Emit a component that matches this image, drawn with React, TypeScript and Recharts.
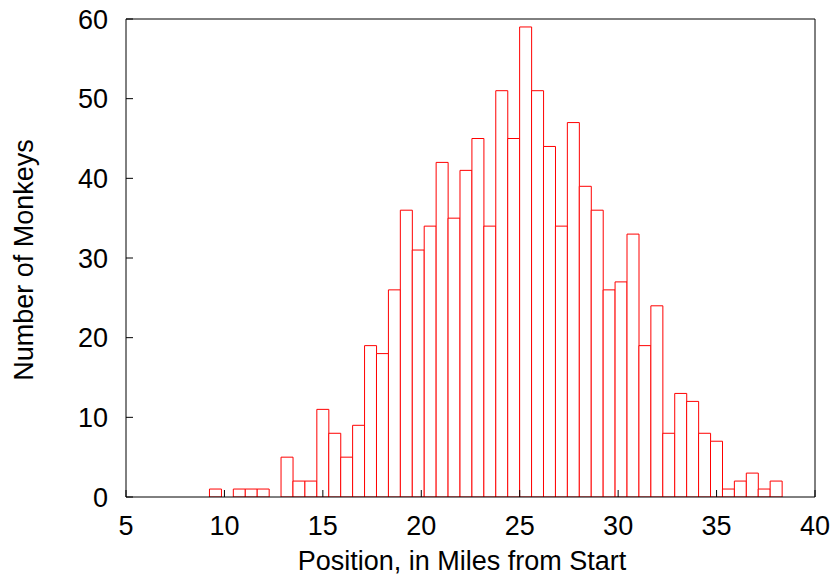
import React from "react";
import { ComposedChart, Bar, XAxis, YAxis } from "recharts";

// histogram bins: first bin starts at 9.24 miles, each bin ~0.606 miles wide
const BIN_START = 9.24;
const BIN_WIDTH = 0.606;
const monkeyCounts = [
  1, 0, 1, 1, 1, 0, 5, 2, 2, 11, 8, 5, 9, 19, 18, 26, 36, 31, 34, 42, 35, 41, 45, 34,
  51, 45, 59, 51, 44, 34, 47, 39, 36, 26, 27, 33, 19, 24, 8, 13, 12, 8, 7, 1, 2, 3, 1, 2,
];
const xTicks = [5, 10, 15, 20, 25, 30, 35, 40];
const yTicks = [0, 10, 20, 30, 40, 50, 60];

const data = monkeyCounts.map((count, i) => ({
  position: BIN_START + BIN_WIDTH * (i + 0.5),
  count,
}));

const font = "'Liberation Sans', Arial, Helvetica, sans-serif";
const tickStyle = { fill: "#000", fontSize: 27, fontFamily: font };

export default function App() {
  return (
    <div style={{ width: 837, height: 585, background: "#fff" }}>
      <style>{"body{margin:0}"}</style>
      <ComposedChart
        width={837}
        height={585}
        data={data}
        margin={{ top: 18, right: 21, bottom: 0, left: 0 }}
        barCategoryGap={0}
        barGap={0}
      >
        <XAxis
          dataKey="position"
          type="number"
          domain={[5, 40]}
          ticks={xTicks}
          allowDataOverflow
          height={88}
          tick={tickStyle}
          tickSize={-7}
          tickMargin={26}
          stroke="#000"
          label={{
            content: () => (
              <text x={462} y={570} textAnchor="middle" fontSize={27} fontFamily={font} fill="#000">
                Position, in Miles from Start
              </text>
            ),
          }}
        />
        <XAxis
          xAxisId="top"
          orientation="top"
          type="number"
          domain={[5, 40]}
          ticks={xTicks}
          allowDataOverflow
          height={1}
          tick={false}
          tickSize={-7}
          stroke="#000"
        />
        <YAxis
          type="number"
          domain={[0, 60]}
          ticks={yTicks}
          allowDataOverflow
          width={126}
          tick={tickStyle}
          tickSize={-7}
          tickMargin={25}
          stroke="#000"
          label={{
            content: () => (
              <text
                x={24}
                y={260}
                transform="rotate(-90 24 260)"
                textAnchor="middle"
                dominantBaseline="central"
                fontSize={27}
                fontFamily={font}
                fill="#000"
              >
                Number of Monkeys
              </text>
            ),
          }}
        />
        <YAxis
          yAxisId="right"
          orientation="right"
          type="number"
          domain={[0, 60]}
          ticks={yTicks}
          allowDataOverflow
          width={1}
          tick={false}
          tickSize={-7}
          stroke="#000"
        />
        <Bar dataKey="count" fill="#fff" stroke="#ff0000" strokeWidth={1} isAnimationActive={false} />
      </ComposedChart>
    </div>
  );
}
